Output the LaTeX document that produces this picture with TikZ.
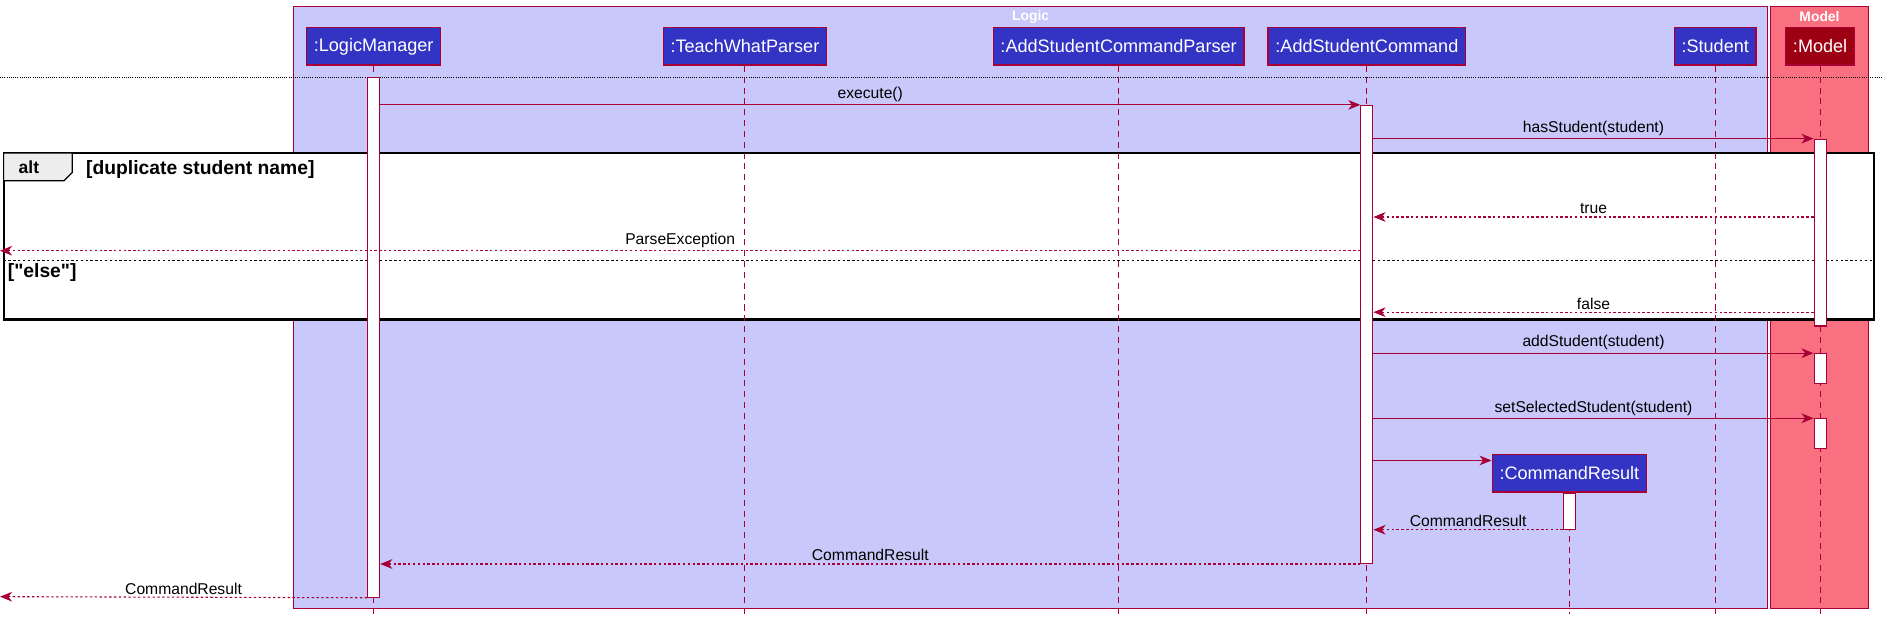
\documentclass[tikz,border=0pt]{standalone}
\usepackage{fontspec}
\setmainfont{Liberation Sans}
\usetikzlibrary{arrows.meta, positioning, calc}

\definecolor{logicbg}{HTML}{C8C8FA}
\definecolor{logicfg}{HTML}{3333C4}
\definecolor{modelbg}{HTML}{F97181}
\definecolor{modelfg}{HTML}{9D0012}
\definecolor{umlred}{HTML}{A80036}

\begin{document}
\begin{tikzpicture}[x=1pt, y=-1pt,
    part/.style={draw=umlred, line width=1.2pt, fill=logicfg, text=white, minimum height=31pt, inner xsep=6pt, font=\fontsize{15}{17}\selectfont},
    life/.style={umlred, line width=0.9pt, dash pattern=on 5pt off 4pt},
    act/.style={draw=umlred, line width=0.9pt, fill=white, minimum width=10pt, inner sep=0pt, anchor=north},
    msg/.style={umlred, line width=0.9pt, -{Stealth[length=10pt, width=8pt, inset=3pt]}},
    ret/.style={msg, dash pattern=on 2pt off 2pt},
    lbl/.style={font=\fontsize{13}{15}\selectfont, text=black, above, inner sep=2pt, midway},
    grp/.style={font=\bfseries\fontsize{11.5}{13}\selectfont, text=white},
    guard/.style={font=\bfseries\fontsize{16}{18}\selectfont, anchor=west}
]
\useasboundingbox (0,0) rectangle (1568,515);

% Logic and Model boxes
\draw[umlred, fill=logicbg] (243,5) rectangle (1466,505);
\draw[umlred, fill=modelbg] (1469,5) rectangle (1550,505);
\node[grp] at (855,14) {Logic};
\node[grp] at (1509.5,14) {Model};

% Divider under the heads
\draw[densely dotted, line width=0.8pt] (0,64) -- (1562,64);

% alt frame
\draw[line width=1.8pt, fill=white] (3,127) rectangle (1555,265);
\draw[line width=1pt, fill=black!7] (3,127) -- (60,127) -- (60,143) -- (53,150) -- (3,150) -- cycle;
\node[font=\bfseries\fontsize{14.5}{16}\selectfont] at (24,139) {alt};
\node[guard] at (68,141) {[duplicate student name]};
\draw[dash pattern=on 2pt off 2pt, line width=0.8pt] (3,216) -- (1555,216);
\node[guard] at (3,226) {[\textquotedbl else\textquotedbl]};

% Participants
\node[part] (lm) at (310,38.5) {:LogicManager};
\node[part] (twp) at (618,38.5) {:TeachWhatParser};
\node[part] (ascp) at (928,38.5) {:AddStudentCommandParser};
\node[part] (asc) at (1134,38.5) {:AddStudentCommand};
\node[part] (stu) at (1423,38.5) {:Student};
\node[part, fill=modelfg] (mdl) at (1510,38.5) {:Model};
\node[part] (cr) at (1302,392.5) {:CommandResult};

% Lifelines
\coordinate (bot) at (0,509);
\foreach \p in {lm,twp,ascp,asc,stu,mdl,cr} {
    \draw[life] (\p.south) -- (\p |- bot);
}

% Activations
\node[act, minimum height=431pt] (aLM) at (lm |- 0,64) {};
\node[act, minimum height=380pt] (aASC) at (asc |- 0,87) {};
\node[act, minimum height=155pt] (aM1) at (mdl |- 0,115) {};
\node[act, minimum height=25pt] (aM2) at (mdl |- 0,293) {};
\node[act, minimum height=25pt] (aM3) at (mdl |- 0,347) {};
\node[act, minimum height=30pt] (aCR) at (cr.south) {};

% Messages
\coordinate (outPE) at (0,208);
\coordinate (outCR) at (0,495);
\draw[msg] (aLM.east |- aASC.north) -- (aASC.north west) node[lbl] {execute()};
\draw[msg] (aASC.east |- aM1.north) -- (aM1.north west) node[lbl] {hasStudent(student)};
\draw[ret] (aM1.west |- 0,180) -- (aASC.east |- 0,180) node[lbl] {true};
\draw[ret] (aASC.west |- outPE) -- (outPE) node[lbl] {ParseException};
\draw[ret] (aM1.west |- 0,259) -- (aASC.east |- 0,259) node[lbl] {false};
\draw[msg] (aASC.east |- aM2.north) -- (aM2.north west) node[lbl] {addStudent(student)};
\draw[msg] (aASC.east |- aM3.north) -- (aM3.north west) node[lbl] {setSelectedStudent(student)};
\draw[msg] (aASC.east |- 0,382) -- (cr.west |- 0,382);
\draw[ret] (aCR.south west) -- (aASC.east |- aCR.south) node[lbl] {CommandResult};
\draw[ret] (aASC.south west) -- (aLM.east |- aASC.south) node[lbl] {CommandResult};
\draw[ret] (aLM.south west) -- (outCR) node[lbl] {CommandResult};
\end{tikzpicture}
\end{document}
